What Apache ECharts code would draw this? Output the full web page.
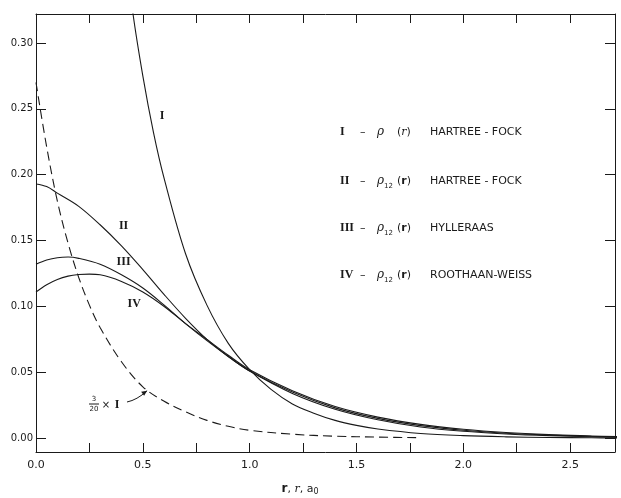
<!DOCTYPE html>
<html>
<head>
<meta charset="utf-8">
<script src="https://cdn.jsdelivr.net/npm/echarts/dist/echarts.min.js"></script>
<style>html,body{margin:0;padding:0;background:#fff}#c{width:621px;height:498px}</style>
</head>
<body>
<div id="c"></div>
<script>
// ---- data ----
const xTickVals = [0, 0.25, 0.5, 0.75, 1.0, 1.25, 1.5, 1.75, 2.0, 2.25, 2.5];
const xLabelVals = [0, 0.5, 1.0, 1.5, 2.0, 2.5];
const yTickVals = [0, 0.05, 0.10, 0.15, 0.20, 0.25, 0.30];

// I : rho(r) Hartree-Fock
const xI = [0.40, 0.45, 0.50, 0.55, 0.60, 0.70, 0.80, 0.90, 1.00, 1.10, 1.20, 1.30, 1.40, 1.50, 1.60, 1.80, 2.00, 2.20, 2.40, 2.60, 2.72];
const yI = [0.400, 0.327, 0.275, 0.232, 0.197, 0.140, 0.101, 0.072, 0.052, 0.037, 0.026, 0.019, 0.0135, 0.0097, 0.0070, 0.0036, 0.0019, 0.0010, 0.0005, 0.0003, 0.0002];
// II : rho12 Hartree-Fock
const xII = [0, 0.05, 0.1, 0.2, 0.3, 0.4, 0.5, 0.6, 0.7, 0.8, 0.9, 1.0, 1.2, 1.4, 1.6, 1.8, 2.0, 2.2, 2.4, 2.6, 2.72];
const yII = [0.193, 0.191, 0.186, 0.176, 0.162, 0.146, 0.128, 0.109, 0.091, 0.075, 0.062, 0.051, 0.034, 0.022, 0.014, 0.0085, 0.0052, 0.0032, 0.0019, 0.0011, 0.0009];
// III : rho12 Hylleraas
const xIII = [0, 0.05, 0.1, 0.15, 0.2, 0.3, 0.4, 0.5, 0.6, 0.7, 0.8, 0.9, 1.0, 1.2, 1.4, 1.6, 1.8, 2.0, 2.2, 2.4, 2.6, 2.72];
const yIII = [0.132, 0.1352, 0.137, 0.1375, 0.1365, 0.132, 0.124, 0.114, 0.101, 0.087, 0.074, 0.062, 0.051, 0.035, 0.023, 0.015, 0.0095, 0.0060, 0.0037, 0.0023, 0.0014, 0.0010];
// IV : rho12 Roothaan-Weiss
const xIV = [0, 0.05, 0.1, 0.15, 0.2, 0.25, 0.3, 0.4, 0.5, 0.6, 0.7, 0.8, 0.9, 1.0, 1.2, 1.4, 1.6, 1.8, 2.0, 2.2, 2.4, 2.6, 2.72];
const yIV = [0.111, 0.1165, 0.1205, 0.123, 0.1242, 0.1245, 0.124, 0.119, 0.111, 0.100, 0.087, 0.075, 0.063, 0.052, 0.036, 0.024, 0.016, 0.0105, 0.0068, 0.0043, 0.0027, 0.0017, 0.0012];
// 3/20 x I (dashed)
const xD = [0, 0.05, 0.1, 0.15, 0.2, 0.25, 0.3, 0.4, 0.5, 0.6, 0.7, 0.8, 0.9, 1.0, 1.2, 1.4, 1.6, 1.8];
const yD = [0.270, 0.221, 0.180, 0.148, 0.122, 0.101, 0.084, 0.058, 0.039, 0.028, 0.020, 0.0135, 0.009, 0.006, 0.003, 0.0015, 0.0008, 0.0004];

const pair = (xs, ys) => xs.map((x, i) => [x, ys[i]]);

const chart = echarts.init(document.getElementById('c'), null, {renderer: 'canvas'});
const ink = '#1a1a1a';
const font = 'DejaVu Sans';

const lineSeries = (name, xs, ys, dashed) => ({
  name, type: 'line', data: pair(xs, ys), smooth: 0.35, symbol: 'none', clip: true,
  lineStyle: {color: ink, width: 1.1, type: dashed ? [9, 5] : 'solid'}
});

const xBase = {
  type: 'value', min: 0, max: 2.71, splitLine: {show: false},
  axisLine: {show: true, onZero: false, lineStyle: {color: ink, width: 1}},
  axisTick: {show: true, inside: true, length: 9, customValues: xTickVals, lineStyle: {color: ink, width: 1}}
};
const yBase = {
  type: 'value', min: -0.0105, max: 0.322, splitLine: {show: false},
  axisLine: {show: true, onZero: false, lineStyle: {color: ink, width: 1}},
  axisTick: {show: true, inside: true, length: 10, customValues: yTickVals, lineStyle: {color: ink, width: 1}}
};

chart.setOption({
  animation: false,
  backgroundColor: '#fff',
  grid: {left: 36, right: 6, top: 14, bottom: 46, containLabel: false},
  xAxis: [
    Object.assign({}, xBase, {position: 'bottom',
      axisLabel: {customValues: xLabelVals, formatter: v => v.toFixed(1), margin: 8, fontSize: 11, fontFamily: font, color: ink}}),
    Object.assign({}, xBase, {position: 'top', axisLabel: {show: false}})
  ],
  yAxis: [
    Object.assign({}, yBase, {position: 'left',
      axisLabel: {customValues: yTickVals, formatter: v => v.toFixed(2), margin: 3, fontSize: 10, fontFamily: font, color: ink}}),
    Object.assign({}, yBase, {position: 'right', axisLabel: {show: false}})
  ],
  series: [
    lineSeries('I', xI, yI, false),
    lineSeries('II', xII, yII, false),
    lineSeries('III', xIII, yIII, false),
    lineSeries('IV', xIV, yIV, false),
    lineSeries('3/20 x I', xD, yD, true)
  ]
});

// ---- annotations ----
const px = (x, y) => chart.convertToPixel({xAxisIndex: 0, yAxisIndex: 0}, [x, y]);
const numFont = 'bold 12px "Liberation Serif"';
const curveLabels = [
  {t: 'I', at: [0.59, 0.245]},
  {t: 'II', at: [0.41, 0.161]},
  {t: 'III', at: [0.41, 0.134]},
  {t: 'IV', at: [0.46, 0.102]}
];
const graphics = [];
curveLabels.forEach(l => {
  const p = px(l.at[0], l.at[1]);
  graphics.push({type: 'text', x: p[0], y: p[1], style: {text: l.t, font: numFont, fill: ink, align: 'center', verticalAlign: 'middle'}});
});

const legendRows = [
  {num: 'I', sub: '', arg: 'r', name: 'HARTREE - FOCK', y: 132},
  {num: 'II', sub: '12', arg: 'r', name: 'HARTREE - FOCK', y: 181},
  {num: 'III', sub: '12', arg: 'r', name: 'HYLLERAAS', y: 228},
  {num: 'IV', sub: '12', arg: 'r', name: 'ROOTHAAN-WEISS', y: 275}
];
legendRows.forEach(r => {
  graphics.push({type: 'text', x: 340, y: r.y, style: {text: r.num, font: numFont, fill: ink, verticalAlign: 'middle'}});
  graphics.push({type: 'text', x: 360, y: r.y, style: {text: '–', font: '11px "DejaVu Sans"', fill: ink, verticalAlign: 'middle'}});
  graphics.push({type: 'text', x: 377, y: r.y, style: {text: 'ρ', font: 'italic 12px "DejaVu Serif"', fill: ink, verticalAlign: 'middle'}});
  if (r.sub) graphics.push({type: 'text', x: 384, y: r.y + 5, style: {text: r.sub, font: '7px "DejaVu Sans"', fill: ink, verticalAlign: 'middle'}});
  graphics.push({type: 'text', x: 397, y: r.y, style: {
    text: '({b|' + r.arg + '})', font: '11px "DejaVu Sans"', fill: ink, verticalAlign: 'middle',
    rich: {b: {font: r.sub ? 'bold 11px "DejaVu Sans"' : 'italic 11px "DejaVu Serif"', fill: ink}}}});
  graphics.push({type: 'text', x: 430, y: r.y, style: {text: r.name, font: '11px "DejaVu Sans"', fill: ink, verticalAlign: 'middle'}});
});

// 3/20 x I annotation with arrow to the dashed curve
graphics.push({type: 'text', x: 94, y: 399, style: {text: '3', font: '7px "DejaVu Sans"', fill: ink, align: 'center', verticalAlign: 'middle'}});
graphics.push({type: 'line', shape: {x1: 89, y1: 404, x2: 99, y2: 404}, style: {stroke: ink, lineWidth: 1}});
graphics.push({type: 'text', x: 94, y: 409, style: {text: '20', font: '7px "DejaVu Sans"', fill: ink, align: 'center', verticalAlign: 'middle'}});
graphics.push({type: 'text', x: 106, y: 405, style: {text: '×', font: '10px "DejaVu Sans"', fill: ink, align: 'center', verticalAlign: 'middle'}});
graphics.push({type: 'text', x: 117, y: 405, style: {text: 'I', font: numFont, fill: ink, align: 'center', verticalAlign: 'middle'}});
const tip = px(0.52, 0.036);
graphics.push({type: 'bezierCurve', shape: {x1: 127, y1: 402, cpx1: 137, cpy1: 400, x2: tip[0], y2: tip[1]}, style: {stroke: ink, lineWidth: 1, fill: null}});
graphics.push({type: 'polygon', shape: {points: [[tip[0], tip[1]], [tip[0] - 6, tip[1] + 1], [tip[0] - 3, tip[1] + 5]]}, style: {fill: ink}});

// axis title
graphics.push({type: 'text', x: 300, y: 489, style: {
  text: '{b|r}, {i|r}, a{s|0}', font: '11px "DejaVu Sans"', fill: ink, align: 'center', verticalAlign: 'middle',
  rich: {b: {font: 'bold 12px "DejaVu Sans"'}, i: {font: 'italic 11px "DejaVu Serif"'}, s: {font: '8px "DejaVu Sans"', padding: [6, 0, 0, 0]}}}});

chart.setOption({graphic: graphics});
</script>
</body>
</html>
